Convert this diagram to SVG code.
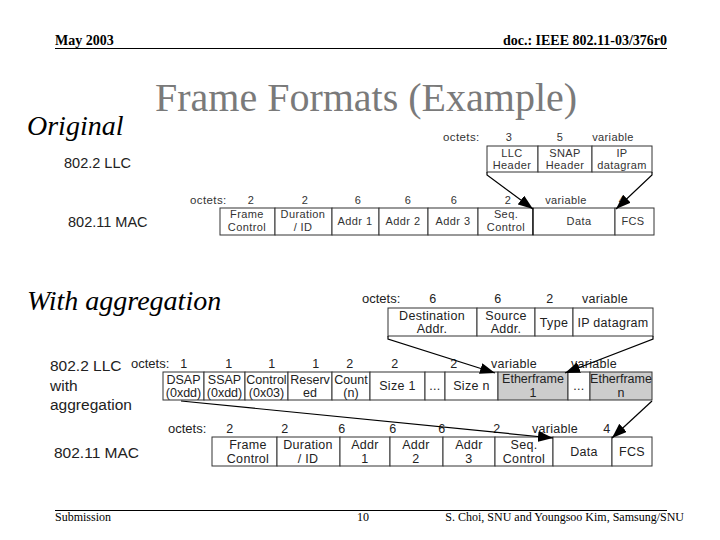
<svg xmlns="http://www.w3.org/2000/svg" width="720" height="540" viewBox="0 0 720 540">
<style>
.hdr{font-family:"Liberation Serif",serif;font-size:14px;font-weight:bold;fill:#000}
.ftr{font-family:"Liberation Serif",serif;font-size:12px;fill:#000}
.title{font-family:"Liberation Serif",serif;font-size:40px;fill:#7a7a7a}
.ital{font-family:"Liberation Serif",serif;font-size:28px;font-style:italic;fill:#000}
.lbl{font-family:"Liberation Sans",Arial,sans-serif;font-size:14.5px;fill:#222}
.lbl2{font-family:"Liberation Sans",Arial,sans-serif;font-size:15.5px;fill:#222}
.sm{font-family:"Liberation Sans",Arial,sans-serif;font-size:11px;fill:#333;letter-spacing:0.4px;text-anchor:middle}
.smo{font-family:"Liberation Sans",Arial,sans-serif;font-size:11.5px;fill:#333;letter-spacing:0.4px}
.md{font-family:"Liberation Sans",Arial,sans-serif;font-size:12.5px;fill:#222;letter-spacing:0.3px;text-anchor:middle}
.mdn{font-family:"Liberation Sans",Arial,sans-serif;font-size:12.5px;fill:#222;letter-spacing:0;text-anchor:middle}
.mdo{font-family:"Liberation Sans",Arial,sans-serif;font-size:13px;fill:#222}
.cell{fill:#fff;stroke:#333;stroke-width:1}
.gcell{fill:#cccccc;stroke:#333;stroke-width:1}
.line{stroke:#000;stroke-width:1;fill:none}
.conn{stroke:#000;stroke-width:1.2;fill:none;marker-end:url(#ah)}
</style>
<defs>
<marker id="ah" markerUnits="userSpaceOnUse" markerWidth="15" markerHeight="11" refX="15" refY="5.5" orient="auto">
<path d="M0,0 L15,5.5 L0,11 z" fill="#000"/>
</marker>
</defs>
<rect width="720" height="540" fill="#fff"/>

<g id="header">
<text class="hdr" x="55" y="45">May 2003</text>
<text class="hdr" x="667" y="45" text-anchor="end">doc.: IEEE 802.11-03/376r0</text>
<line class="line" x1="55" y1="48.5" x2="667" y2="48.5"/>
</g>

<g id="title"><text class="title" x="155" y="111">Frame Formats (Example)</text></g>
<g id="label-original"><text class="ital" x="27" y="135">Original</text></g>
<g id="label-aggregation"><text class="ital" x="27" y="310">With aggregation</text></g>

<g id="label-llc-top"><text class="lbl" x="64" y="168">802.2 LLC</text></g>
<g id="label-mac-top"><text class="lbl" x="68" y="227">802.11 MAC</text></g>

<g id="top-llc">
<text class="smo" x="443" y="141">octets:</text>
<text class="sm" x="509" y="141">3</text>
<text class="sm" x="560" y="141">5</text>
<text class="sm" x="613" y="141">variable</text>
<rect class="cell" x="487" y="146" width="51" height="26"/>
<rect class="cell" x="538" y="146" width="54" height="26"/>
<rect class="cell" x="592" y="146" width="60" height="26"/>
<text class="sm" x="512" y="157">LLC</text><text class="sm" x="512" y="169">Header</text>
<text class="sm" x="565" y="157">SNAP</text><text class="sm" x="565" y="169">Header</text>
<text class="sm" x="622" y="157">IP</text><text class="sm" x="622" y="169">datagram</text>
</g>

<g id="top-mac">
<text class="smo" x="190" y="204">octets:</text>
<text class="sm" x="251" y="204">2</text>
<text class="sm" x="305" y="204">2</text>
<text class="sm" x="358" y="204">6</text>
<text class="sm" x="408" y="204">6</text>
<text class="sm" x="454" y="204">6</text>
<text class="sm" x="508" y="204">2</text>
<text class="sm" x="566" y="204">variable</text>
<text class="sm" x="622" y="204">4</text>
<rect class="cell" x="220" y="208" width="55" height="27"/>
<rect class="cell" x="275" y="208" width="57" height="27"/>
<rect class="cell" x="332" y="208" width="47" height="27"/>
<rect class="cell" x="379" y="208" width="49" height="27"/>
<rect class="cell" x="428" y="208" width="50" height="27"/>
<rect class="cell" x="478" y="208" width="55" height="27"/>
<rect class="cell" x="533" y="208" width="82" height="27"/>
<rect class="cell" x="615" y="208" width="39" height="27"/>
<text class="sm" x="247" y="218">Frame</text><text class="sm" x="247" y="231">Control</text>
<text class="sm" x="303" y="218">Duration</text><text class="sm" x="303" y="231">/ ID</text>
<text class="sm" x="355" y="225">Addr 1</text>
<text class="sm" x="403" y="225">Addr 2</text>
<text class="sm" x="453" y="225">Addr 3</text>
<text class="sm" x="506" y="218">Seq.</text><text class="sm" x="506" y="231">Control</text>
<text class="sm" x="579" y="225">Data</text>
<text class="sm" x="633" y="225">FCS</text>
</g>

<g id="mid-ether">
<text class="mdo" x="362" y="303">octets:</text>
<text class="md" x="433" y="303">6</text>
<text class="md" x="498" y="303">6</text>
<text class="md" x="550" y="303">2</text>
<text class="md" x="605" y="303">variable</text>
<rect class="cell" x="388" y="308" width="89" height="28"/>
<rect class="cell" x="477" y="308" width="58" height="28"/>
<rect class="cell" x="535" y="308" width="38" height="28"/>
<rect class="cell" x="573" y="308" width="80" height="28"/>
<text class="md" x="432" y="320">Destination</text><text class="md" x="432" y="333">Addr.</text>
<text class="md" x="506" y="320">Source</text><text class="md" x="506" y="333">Addr.</text>
<text class="md" x="554" y="327">Type</text>
<text class="md" x="613" y="327">IP datagram</text>
</g>

<g id="label-llc-agg">
<text class="lbl2" x="50" y="371">802.2 LLC</text>
<text class="lbl2" x="50" y="391">with</text>
<text class="lbl2" x="50" y="410">aggregation</text>
</g>

<g id="llc-agg">
<text class="mdo" x="131" y="368">octets:</text>
<text class="md" x="184" y="368">1</text>
<text class="md" x="229" y="368">1</text>
<text class="md" x="272" y="368">1</text>
<text class="md" x="316" y="368">1</text>
<text class="md" x="350" y="368">2</text>
<text class="md" x="395" y="368">2</text>
<text class="md" x="454" y="368">2</text>
<text class="md" x="514" y="368">variable</text>
<text class="md" x="594" y="368">variable</text>
<rect class="cell" x="163" y="372" width="41" height="28"/>
<rect class="cell" x="204" y="372" width="41" height="28"/>
<rect class="cell" x="245" y="372" width="43" height="28"/>
<rect class="cell" x="288" y="372" width="44" height="28"/>
<rect class="cell" x="332" y="372" width="38" height="28"/>
<rect class="cell" x="370" y="372" width="55" height="28"/>
<rect class="cell" x="425" y="372" width="20" height="28"/>
<rect class="cell" x="445" y="372" width="53" height="28"/>
<rect class="gcell" x="498" y="372" width="70" height="28"/>
<rect class="cell" x="568" y="372" width="22" height="28"/>
<rect class="gcell" x="590" y="372" width="62" height="28"/>
<text class="mdn" x="183.5" y="384">DSAP</text><text class="mdn" x="183.5" y="397">(0xdd)</text>
<text class="mdn" x="224.5" y="384">SSAP</text><text class="mdn" x="224.5" y="397">(0xdd)</text>
<text class="mdn" x="266.5" y="384">Control</text><text class="mdn" x="266.5" y="397">(0x03)</text>
<text class="mdn" x="310" y="384">Reserv</text><text class="mdn" x="310" y="397">ed</text>
<text class="mdn" x="351" y="384">Count</text><text class="mdn" x="351" y="397">(n)</text>
<text class="md" x="397.5" y="390">Size 1</text>
<text class="md" x="435" y="390">...</text>
<text class="md" x="471.5" y="390">Size n</text>
<text class="mdn" x="533" y="383">Etherframe</text><text class="mdn" x="533" y="397">1</text>
<text class="md" x="579" y="390">...</text>
<text class="mdn" x="621" y="383">Etherframe</text><text class="mdn" x="621" y="397">n</text>
</g>

<g id="label-mac-agg"><text class="lbl2" x="54" y="458">802.11 MAC</text></g>

<g id="mac-agg">
<text class="mdo" x="168" y="433">octets:</text>
<text class="md" x="230" y="433">2</text>
<text class="md" x="285" y="433">2</text>
<text class="md" x="342" y="433">6</text>
<text class="md" x="393" y="433">6</text>
<text class="md" x="442" y="433">6</text>
<text class="md" x="497" y="433">2</text>
<text class="md" x="555" y="433">variable</text>
<text class="md" x="607" y="433">4</text>
<rect class="cell" x="212" y="437" width="65" height="29"/>
<rect class="cell" x="277" y="437" width="63" height="29"/>
<rect class="cell" x="340" y="437" width="50" height="29"/>
<rect class="cell" x="390" y="437" width="53" height="29"/>
<rect class="cell" x="443" y="437" width="52" height="29"/>
<rect class="cell" x="495" y="437" width="58" height="29"/>
<rect class="cell" x="553" y="437" width="59" height="29"/>
<rect class="cell" x="612" y="437" width="40" height="29"/>
<text class="md" x="248" y="449">Frame</text><text class="md" x="248" y="463">Control</text>
<text class="md" x="308" y="449">Duration</text><text class="md" x="308" y="463">/ ID</text>
<text class="md" x="365" y="449">Addr</text><text class="md" x="365" y="463">1</text>
<text class="md" x="416" y="449">Addr</text><text class="md" x="416" y="463">2</text>
<text class="md" x="469" y="449">Addr</text><text class="md" x="469" y="463">3</text>
<text class="md" x="524" y="449">Seq.</text><text class="md" x="524" y="463">Control</text>
<text class="md" x="584" y="456">Data</text>
<text class="md" x="632" y="456">FCS</text>
</g>

<g id="connectors">
<path class="conn" d="M487,172 L487,175 L533,209"/>
<path class="conn" d="M652,172 L652,175 L616,209"/>
<line class="line" x1="533" y1="208" x2="533" y2="235" stroke-width="2"/>
<path class="conn" d="M388,336 L388,339 L495,373"/>
<path class="conn" d="M653,336 L653,339 L565,373"/>
<path class="conn" d="M181,401 L553,438"/>
<path class="conn" d="M652,401 L612,438"/>
</g>

<g id="footer">
<line class="line" x1="55" y1="510.5" x2="667" y2="510.5"/>
<text class="ftr" x="55" y="521">Submission</text>
<text class="ftr" x="363" y="521" text-anchor="middle">10</text>
<text class="ftr" x="684" y="521" text-anchor="end">S. Choi, SNU and Youngsoo Kim, Samsung/SNU</text>
</g>
</svg>
